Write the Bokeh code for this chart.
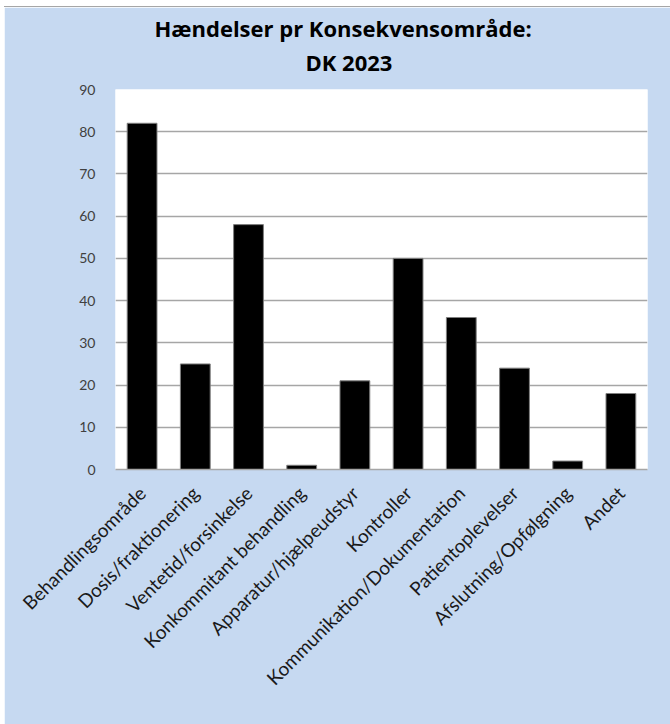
import math
from bokeh.plotting import figure
from bokeh.models import Range1d, FixedTicker, Title
from bokeh.embed import file_html
from bokeh.resources import INLINE

categories = ["Behandlingsområde", "Dosis/fraktionering", "Ventetid/forsinkelse",
              "Konkommitant behandling", "Apparatur/hjælpeudstyr", "Kontroller",
              "Kommunikation/Dokumentation", "Patientoplevelser",
              "Afslutning/Opfølgning", "Andet"]
counts = [82, 25, 58, 1, 21, 50, 36, 24, 2, 18]
y_ticks = [0, 10, 20, 30, 40, 50, 60, 70, 80, 90]
title_lines = ["Hændelser pr Konsekvensområde:", "DK 2023"]

BG = "#C6D9F1"
W, H = 666, 717

p = figure(x_range=categories, y_range=Range1d(0, 90), width=W, height=H,
           output_backend="svg", toolbar_location=None,
           background_fill_color="white", border_fill_color=BG,
           min_border_left=111, min_border_right=23,
           min_border_top=82, min_border_bottom=255)
p.margin = (7, 0, 0, 4)
p.styles = {"box-shadow": "0 -1px 0 #A6A6A6"}
p.outline_line_color = None

p.vbar(x=categories, top=counts, width=0.56, fill_color="black",
       line_color="#7f7f7f", line_width=1)

p.xgrid.grid_line_color = None
p.ygrid.grid_line_color = "#A6A6A6"
p.ygrid.grid_line_width = 1.5
p.ygrid.ticker = FixedTicker(ticks=y_ticks)

p.yaxis.ticker = FixedTicker(ticks=y_ticks)
p.yaxis.axis_line_color = None
p.yaxis.major_tick_line_color = None
p.yaxis.minor_tick_line_color = None
p.yaxis.major_label_text_font = "Lato"
p.yaxis.major_label_text_font_size = "14px"
p.yaxis.major_label_text_color = "#404040"
p.yaxis.major_label_standoff = 14

p.xaxis.axis_line_color = "#A6A6A6"
p.xaxis.axis_line_width = 1.5
p.xaxis.major_tick_line_color = None
p.xaxis.minor_tick_line_color = None
p.xaxis.major_label_orientation = math.pi / 4
p.xaxis.major_label_text_font = "Lato"
p.xaxis.major_label_text_font_size = "19px"
p.xaxis.major_label_text_color = "#1a1a1a"
p.xaxis.major_label_standoff = 14

# spacer between the plot frame and the title lines
p.add_layout(Title(text=" ", text_font_size="5px", standoff=3), "above")

# first added sits closest to the plot frame
title_offsets = [39, 190]
title_standoffs = [0, 4]
for t, off, so in reversed(list(zip(title_lines, title_offsets, title_standoffs))):
    p.add_layout(Title(text=t, align="left", offset=off, standoff=so,
                       text_font="Open Sans", text_font_style="bold",
                       text_font_size="22px", text_color="black"), "above")

open("out.html", "w").write(file_html(p, INLINE))
